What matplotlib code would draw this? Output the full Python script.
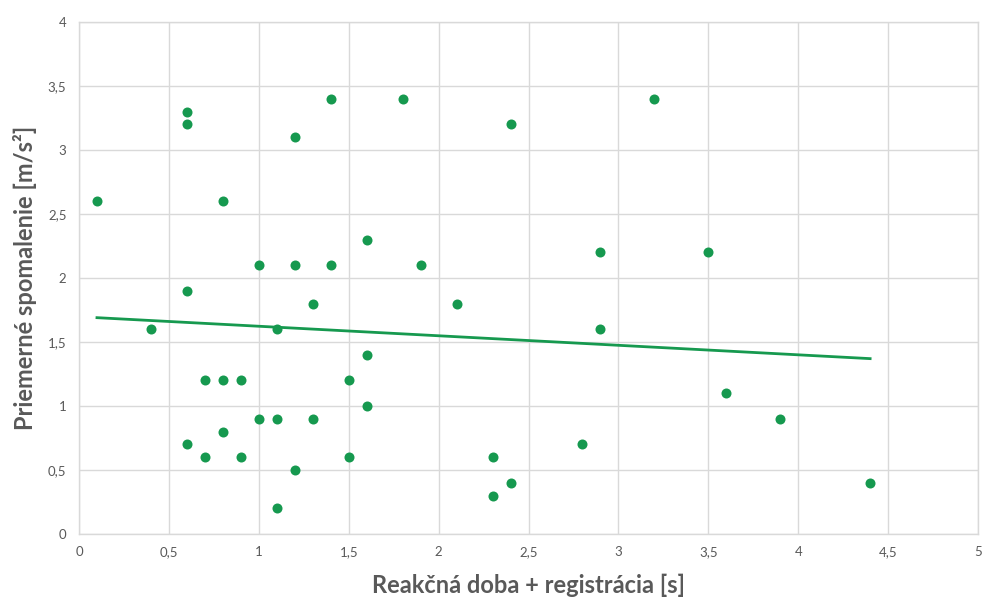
import numpy as np
import matplotlib
matplotlib.use('Agg')
import matplotlib.pyplot as plt
from matplotlib.ticker import FuncFormatter, MultipleLocator

# Data
reaction_time = [0.1, 0.4, 0.6, 0.6, 0.6, 0.6, 0.7, 0.7, 0.8, 0.8, 0.8, 0.9, 0.9,
                 1.0, 1.0, 1.1, 1.1, 1.1, 1.2, 1.2, 1.2, 1.3, 1.3, 1.4, 1.4, 1.5,
                 1.5, 1.6, 1.6, 1.6, 1.8, 1.9, 2.1, 2.3, 2.3, 2.4, 2.4, 2.8, 2.9,
                 2.9, 3.2, 3.5, 3.6, 3.9, 4.4]
deceleration = [2.6, 1.6, 3.3, 3.2, 1.9, 0.7, 1.2, 0.6, 2.6, 1.2, 0.8, 1.2, 0.6,
                2.1, 0.9, 1.6, 0.9, 0.2, 3.1, 2.1, 0.5, 1.8, 0.9, 3.4, 2.1, 1.2,
                0.6, 2.3, 1.4, 1.0, 3.4, 2.1, 1.8, 0.6, 0.3, 3.2, 0.4, 0.7, 2.2,
                1.6, 3.4, 2.2, 1.1, 0.9, 0.4]

# Excel linear trendline, endpoints as drawn in the chart
trend_x = [0.1, 4.4]
trend_y = [1.69, 1.37]

green = '#16994f'
grey_txt = '#595959'
grid_col = '#d9d9d9'

plt.rcParams['font.family'] = ['Lato', 'DejaVu Sans']

fig = plt.figure(figsize=(9.85, 6.01), dpi=100)
ax = fig.add_axes([0.0802, 0.1115, 0.9127, 0.8519])

ax.scatter(reaction_time, deceleration, s=52, color=green, zorder=3, linewidths=0)
ax.plot(trend_x, trend_y, color=green, lw=2, zorder=2)

ax.set_xlim(0, 5)
ax.set_ylim(0, 4)
ax.xaxis.set_major_locator(MultipleLocator(0.5))
ax.yaxis.set_major_locator(MultipleLocator(0.5))
fmt = FuncFormatter(lambda v, p: ('%g' % v).replace('.', ','))
ax.xaxis.set_major_formatter(fmt)
ax.yaxis.set_major_formatter(fmt)

ax.grid(True, color=grid_col, lw=1)
ax.set_axisbelow(True)
for s in ax.spines.values():
    s.set_color(grid_col)
    s.set_linewidth(1)
ax.tick_params(length=0, labelsize=9.5, labelcolor=grey_txt, pad=9)

ax.set_xlabel('Reakčná doba + registrácia [s]', fontsize=17, fontweight='bold',
              color=grey_txt, labelpad=11)
ax.set_ylabel('Priemerné spomalenie [m/s²]', fontsize=17, fontweight='bold',
              color=grey_txt, labelpad=8)

fig.savefig('out.png', dpi=100)
